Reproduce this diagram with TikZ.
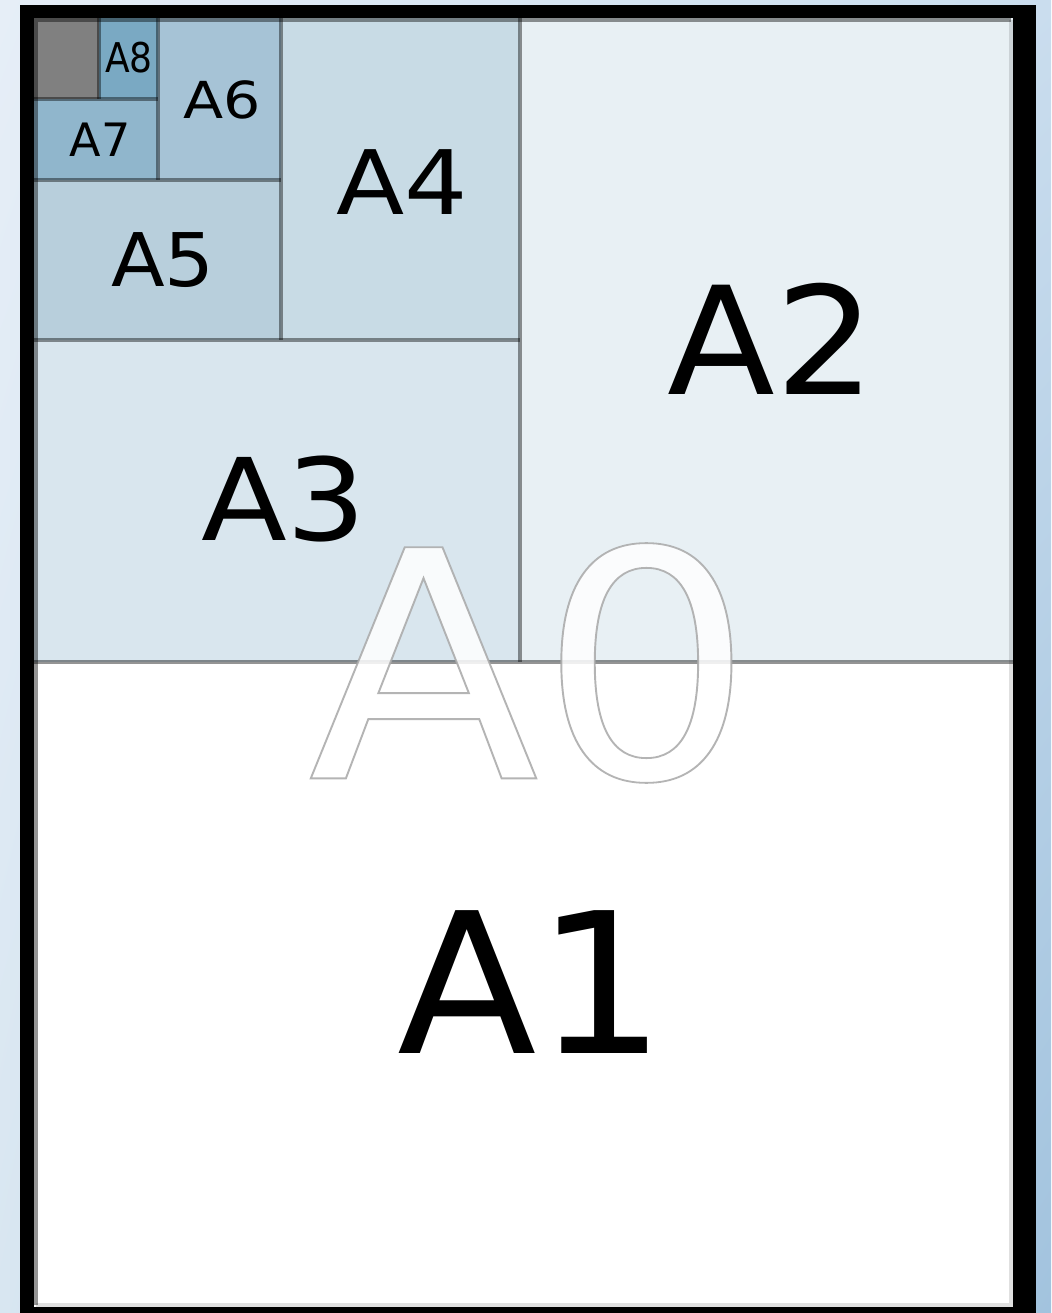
\documentclass[tikz,border=0pt]{standalone}
\usepackage{fontspec}
\setmainfont{DejaVu Sans}
\usetikzlibrary{shadings}
\definecolor{bgTL}{HTML}{E6EEF7}
\definecolor{bgTR}{HTML}{CADDEE}
\definecolor{bgBL}{HTML}{D8E6F1}
\definecolor{bgBR}{HTML}{A2C3DE}
\definecolor{cA2}{HTML}{E8F0F4}
\definecolor{cA3}{HTML}{D9E6EE}
\definecolor{cA4}{HTML}{C8DBE5}
\definecolor{cA5}{HTML}{B8CFDC}
\definecolor{cA6}{HTML}{A6C3D6}
\definecolor{cA7}{HTML}{90B6CC}
\definecolor{cA8}{HTML}{7AA9C3}
\definecolor{cGray}{HTML}{808080}
\newcommand{\fsz}[1]{\fontsize{#1}{#1}\selectfont}
\begin{document}
\begin{tikzpicture}[x=1pt,y=-1pt,
  divline/.style={draw=black, draw opacity=0.42, line width=3.5pt},
  lbl/.style={inner sep=0pt, outer sep=0pt, text=black, anchor=center}]
\useasboundingbox (0,0) rectangle (1051,1313);
% background
\shade[upper left=bgTL, upper right=bgTR, lower left=bgBL, lower right=bgBR] (0,0) rectangle (1051,1313);
% frame
\fill[black] (20,5) rectangle (1036,1313);
% paper
\fill[white] (34,18) rectangle (1013,1307);
% regions
\fill[cA2] (520,18) rectangle (1013,662);
\fill[cA3] (34,340) rectangle (520,662);
\fill[cA4] (281,18) rectangle (520,340);
\fill[cA5] (34,180) rectangle (281,340);
\fill[cA6] (158,18) rectangle (281,180);
\fill[cA7] (34,99) rectangle (158,180);
\fill[cA8] (99,18) rectangle (158,99);
\fill[cGray] (34,18) rectangle (99,99);
% bevel edges of the paper
\draw[draw=black, draw opacity=0.12, line width=4pt] (1011,20) -- (1011,1305) -- (36,1305);
\draw[divline, line width=4pt] (36,1305) -- (36,20) -- (1011,20);
% dividing lines
\draw[divline] (34,662) -- (1013,662);
\draw[divline] (520,18) -- (520,662);
\draw[divline] (34,340) -- (520,340);
\draw[divline] (281,18) -- (281,340);
\draw[divline] (34,180) -- (281,180);
\draw[divline] (158,18) -- (158,180);
\draw[divline] (34,99) -- (158,99);
\draw[divline] (99,18) -- (99,99);
% labels
\node[lbl, font=\fsz{196}, xscale=1.04] (tA1) at (532,982) {A1};
\node[lbl, font=\fsz{150}, xscale=1.05] (tA2) at (771.5,339) {A2};
\node[lbl, font=\fsz{114}, xscale=1.1] (tA3) at (284,499) {A3};
\node[lbl, font=\fsz{89}, xscale=1.12] (tA4) at (402,182) {A4};
\node[lbl, font=\fsz{74}, xscale=1.06] (tA5) at (163,260) {A5};
\node[lbl, font=\fsz{51}, xscale=1.15] (tA6) at (222,99.5) {A6};
\node[lbl, font=\fsz{46}] (tA7) at (100,140) {A7};
\node[lbl, font=\fsz{41}, xscale=0.88] (tA8) at (129,58) {A8};
% big outlined A0
\node[lbl, text=white, text opacity=0.85, font=\fsz{317}, xscale=1.065] (tA0) at (531,663)
  {\special{pdf:literal direct 2 Tr 0.66 G 1.8 w}A0\special{pdf:literal direct 0 Tr}};
\end{tikzpicture}
\end{document}
